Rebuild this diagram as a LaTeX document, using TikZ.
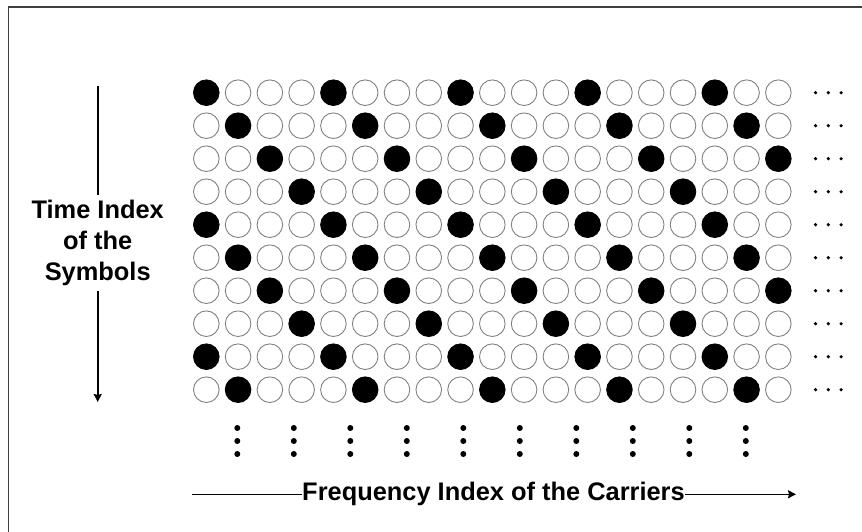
\documentclass[tikz,border=0pt]{standalone}
\usepackage{fontspec}
\setmainfont{Liberation Sans}
\usetikzlibrary{arrows.meta}

\tikzset{
  slot/.style={circle, draw=black!50, line width=0.9pt, minimum size=25.6pt, inner sep=0pt},
  pilot/.style={slot, draw=black, fill=black},
  lbl/.style={font=\fontsize{25.4}{31}\selectfont\bfseries, inner sep=0pt, align=center},
  axisline/.style={line width=1.6pt},
  axisarrow/.style={axisline, -{Stealth[length=8pt,width=8pt,inset=1pt]}},
}

\begin{document}
\begin{tikzpicture}[x=1pt,y=-1pt]
\useasboundingbox (0,0) rectangle (862,532);
% frame
\draw[line width=1.6pt, black!75] (8.5,545) -- (8.5,7) -- (875,7);

% grid of carriers
\foreach \r in {0,...,9}{
  \foreach \c in {0,...,18}{
    \pgfmathtruncatemacro\k{mod(\c-\r+40,4)}
    \ifnum\k=0 \def\sty{pilot}\else\def\sty{slot}\fi
    \node[\sty] (c\r-\c) at ({206.3+31.78*\c},{92.7+33*\r}) {};
  }
  \foreach \d in {0,1,2}
    \fill ({815.5+12.8*\d},{92.7+33*\r}) circle(1.8pt);
}
\foreach \i in {0,...,9}
  \foreach \d in {0,1,2}
    \fill ({237.3+56.5*\i},{428+13*\d}) circle(3pt);

% time axis
\coordinate (ttop) at (97.7,85.7);
\coordinate (tend) at (97.7,402);
\node[lbl, inner ysep=5pt] (tlabel) at (97.7,242.7) {Time Index\\of the\\Symbols};
\draw[axisline] (ttop) -- (tlabel.north);
\draw[axisarrow] (tlabel.south) -- (tend);

% frequency axis
\coordinate (fstart) at (192,494.3);
\coordinate (fend) at (796,494.3);
\node[lbl] (flabel) at (493.5,494.3) {Frequency Index of the Carriers};
\draw[axisline] (fstart) -- (flabel.west);
\draw[axisarrow] (flabel.east) -- (fend);
\end{tikzpicture}
\end{document}
